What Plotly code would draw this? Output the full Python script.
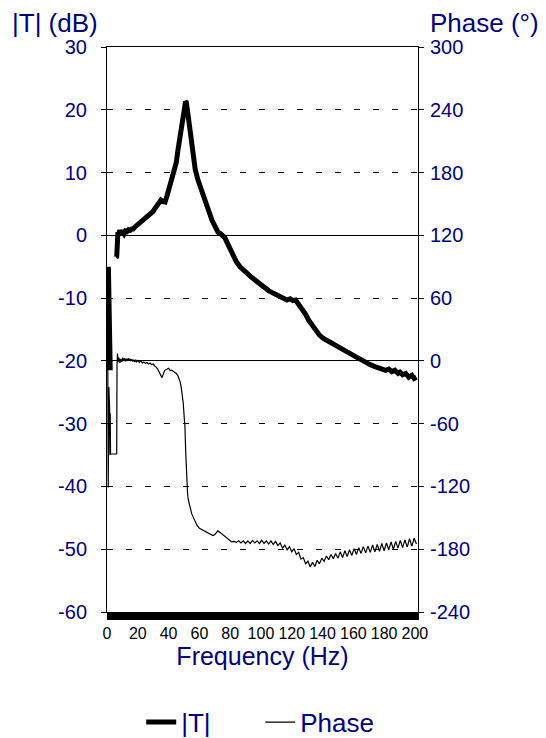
import plotly.graph_objects as go

# ---- data ----
mag_freq = [0.5, 0.7, 0.9, 1.1, 1.3, 1.5, 1.7, 1.9, 2.1, None,
            5.8, 6.3, 6.8, 7.1, 7.6, 8.2, 9, 10, 11, 12, 13, 14, 15, 16, 17, 18, 19, 20,
            21.4, 23, 24.5, 26, 27.9, 29.9, 31, 32.5, 34, 35, 36, 37, 37.7, 39, 40, 41, 42,
            43, 44.2, 45, 46.1, 47, 48, 48.7, 49.5, 50.2, 51.0, 51.5, 52.2, 52.8, 53.5,
            54.5, 55.8, 57.3, 59.1, 61, 63.6, 65, 66.5, 68.2, 70, 72.1, 74, 76.6, 78.5, 80,
            81.8, 84, 86.4, 88.5, 90.9, 93, 95.5, 97, 99.4, 102, 105, 107.8, 110, 113,
            116.9, 119, 120.8, 122.5, 124, 126, 127.3, 129, 131, 133.8, 136, 138, 140.3,
            143, 146, 149, 151.3, 154, 157, 159.7, 162, 165, 168.8, 171, 174, 177, 179.2,
            181, 183, 185, 187, 189, 190.3, 192, 194, 196, 198, 199.5, 201]
mag_db = [-21.5, -19, -5, -12, -16, -14.5, -17.5, -20, -21.5, None,
          -3.5, -3.4, -1, 0.5, 0.2, 0.8, 0.4, 0.5, 0.2, 0.7, 0.6, 0.9, 0.8, 1.0, 1.0, 1.3, 1.5, 1.7,
          1.9, 2.3, 2.6, 2.9, 3.3, 3.8, 4.2, 4.8, 5.5, 5.6, 5.4, 5.2, 5.3, 6.3, 7.2, 7.9, 8.6,
          9.5, 10.4, 11.6, 13.6, 14.8, 16.2, 17.2, 18.5, 20.0, 21.3, 21.2, 20.0, 18.8, 17.0,
          14.8, 12.5, 10.5, 8.8, 7.3, 5.6, 4.8, 3.6, 2.4, 1.4, 0.5, 0.2, -0.4, -1.4, -2.3,
          -3.2, -4.2, -5.0, -5.4, -5.9, -6.5, -7.0, -7.3, -7.7, -8.3, -8.8, -9.2, -9.5, -9.9,
          -10.3, -10.1, -10.4, -10.3, -10.8, -11.4, -11.9, -12.6, -13.5, -14.6, -15.4, -15.9, -16.4,
          -16.8, -17.2, -17.6, -17.8, -18.3, -18.8, -19.1, -19.4, -19.8, -20.4, -20.6, -20.9, -21.1, -21.2,
          -21.5, -21.3, -21.7, -21.5, -22.0, -21.8, -22.2, -22.0, -22.6, -22.3, -22.8, -22.6]

phase_freq = [0.5, 0.8, 1.2, 1.7, 1.9, 2.1, 2.3, 4.0, 6.3, 6.5, 6.8,
              7.2, 7.8, 8.4, 9, 9.6, 10.2, 10.8, 11.4, 12, 12.6, 13.2, 13.8, 14.4, 15, 15.6,
              16.2, 16.8, 17.4, 18, 18.6, 19.2, 20, 21, 22, 23, 24, 25, 26, 27, 28, 29, 30,
              31, 32, 33, 34, 35, 35.7, 36.5, 37.5, 38.9, 40, 41, 42, 43, 44, 45, 46, 47,
              47.5, 48.2, 48.8, 49.5, 50.2, 50.6, 51.2, 51.6, 52, 52.3, 52.7, 53.5, 55,
              56.5, 58.4, 60, 62.3, 64, 66, 68.8, 70, 71, 72, 73.5, 75.3, 77, 79, 81, 82.5, 84,
              85.5, 87, 88.5, 90, 91.5, 93, 94.5, 96, 97.5, 99, 100.5, 102, 103.5, 105,
              106.5, 108, 109.5, 111, 112.5, 114, 115.5, 117, 118.5, 120, 121.5, 123,
              124.5, 126, 127.5, 129, 130.5, 132, 133.5, 135, 136.5, 138, 139.5, 141,
              142.5, 144, 145.5, 147, 148.5, 150, 151.5, 153, 154.5, 156, 157.5, 159,
              160.5, 162, 163.5, 165, 166.5, 168, 169.5, 171, 172.5, 174, 175.5, 177,
              178.5, 180, 181.5, 183, 184.5, 186, 187.5, 189, 190.5, 192, 193.5, 195,
              196.5, 198, 199.5, 201]
phase_deg = [0, -121, -25, -45, -90, -50, -89, -89, -89, -5, 7,
             -1, 3, -2, 2, -1, 3, 0, 2.5, -0.5, 2, 0, 2.5, 0.5, 2, 0,
             1.5, -0.5, 1, -1, 1, -1, 0.5, -1.5, 0, -2, -1, -2.5, -1.5, -3, -2, -3.5, -3,
             -5, -6, -8, -11, -14, -16, -13, -9, -8, -7, -9, -9, -10, -11, -12, -14, -17,
             -20, -25, -30, -40, -55, -62, -90, -110, -121, -126, -132, -138, -146,
             -151, -157, -160, -162, -163, -165, -167, -166, -164, -162.5, -164, -166, -168, -171, -173, -172.5, -173.5,
             -172, -174, -172, -174.5, -172, -174.5, -171.5, -174, -172, -174.5, -171.5, -174.5, -172, -175,
             -172, -175.5, -172.5, -176.5, -174, -179, -176, -180.5, -177.5, -182.5, -179.5, -185,
             -183, -189.5, -188, -194, -191.5, -197, -192.5, -196.5, -190.5, -194, -188.5, -191.5,
             -186.5, -190, -185, -189, -184, -188.5, -182.5, -188, -181.5, -187, -180.5, -186,
             -179.5, -185, -178.5, -184, -177.5, -183.5, -177, -183, -176, -182.5, -175.5, -182,
             -174.5, -181.5, -174, -180.5, -173, -180, -172.5, -179, -171.5, -178.5, -171, -178,
             -170, -177, -169.5, -175]

x_ticks = [0, 20, 40, 60, 80, 100, 120, 140, 160, 180, 200]
y1_ticks = [30, 20, 10, 0, -10, -20, -30, -40, -50, -60]
y2_ticks = [300, 240, 180, 120, 60, 0, -60, -120, -180, -240]

NAVY = "#000080"
FONT = "Liberation Sans, Arial, sans-serif"

fig = go.Figure()
fig.add_trace(go.Scatter(x=phase_freq, y=phase_deg, name="Phase", yaxis="y2",
                         mode="lines", line=dict(color="black", width=1.2)))
fig.add_trace(go.Scatter(x=mag_freq, y=mag_db, name="|T|", yaxis="y",
                         mode="lines", connectgaps=False,
                         line=dict(color="black", width=5)))

# the page body adds an 8px offset, so the figure is 8px smaller and margins compensate
fig.update_layout(
    width=538, height=730,
    margin=dict(l=99, r=128, t=39, b=126, autoexpand=False),
    paper_bgcolor="white", plot_bgcolor="white",
    font=dict(family=FONT, color=NAVY),
    showlegend=True,
    legend=dict(orientation="h", x=0.11, xanchor="left", y=-0.195, yanchor="middle",
                font=dict(size=26, color=NAVY), traceorder="reversed",
                itemwidth=30, entrywidth=74, bgcolor="rgba(0,0,0,0)"),
    xaxis=dict(range=[0, 202], tickvals=x_ticks, ticktext=[str(v) for v in x_ticks],
               ticks="outside", ticklen=7, tickcolor="black", automargin=False,
               tickfont=dict(size=16, color="black"),
               minor=dict(dtick=0.5, tick0=0, ticks="outside", ticklen=7, tickcolor="black", showgrid=False),
               showline=True, linecolor="black", linewidth=1, mirror=True,
               showgrid=False, zeroline=False,
               title=dict(text="Frequency (Hz)", font=dict(size=25, color=NAVY), standoff=6)),
    yaxis=dict(range=[-60, 30], tickvals=y1_ticks, ticktext=[str(v) for v in y1_ticks],
               ticks="outside", ticklen=5, tickcolor="black", automargin=False,
               tickfont=dict(size=20, color=NAVY), ticklabelstandoff=10,
               showline=True, linecolor="black", linewidth=1,
               showgrid=True, gridcolor="black", gridwidth=1, griddash="6px,13px",
               zeroline=True, zerolinecolor="black", zerolinewidth=1),
    yaxis2=dict(range=[-240, 300], tickvals=y2_ticks, ticktext=[str(v) for v in y2_ticks],
                overlaying="y", side="right", automargin=False,
                ticks="outside", ticklen=5, tickcolor=NAVY, ticklabelstandoff=2,
                tickfont=dict(size=20, color=NAVY),
                showline=True, linecolor="black", linewidth=1,
                showgrid=False, zeroline=True, zerolinecolor="black", zerolinewidth=1),
    annotations=[
        dict(text="|T| (dB)", xref="paper", yref="paper", x=-0.312, y=1.042,
             xanchor="left", yanchor="middle", showarrow=False,
             font=dict(size=26, color=NAVY, family=FONT)),
        dict(text="Phase (°)", xref="paper", yref="paper", x=1.395, y=1.042,
             xanchor="right", yanchor="middle", showarrow=False,
             font=dict(size=26, color=NAVY, family=FONT)),
    ],
)

fig.write_html("out.html")
